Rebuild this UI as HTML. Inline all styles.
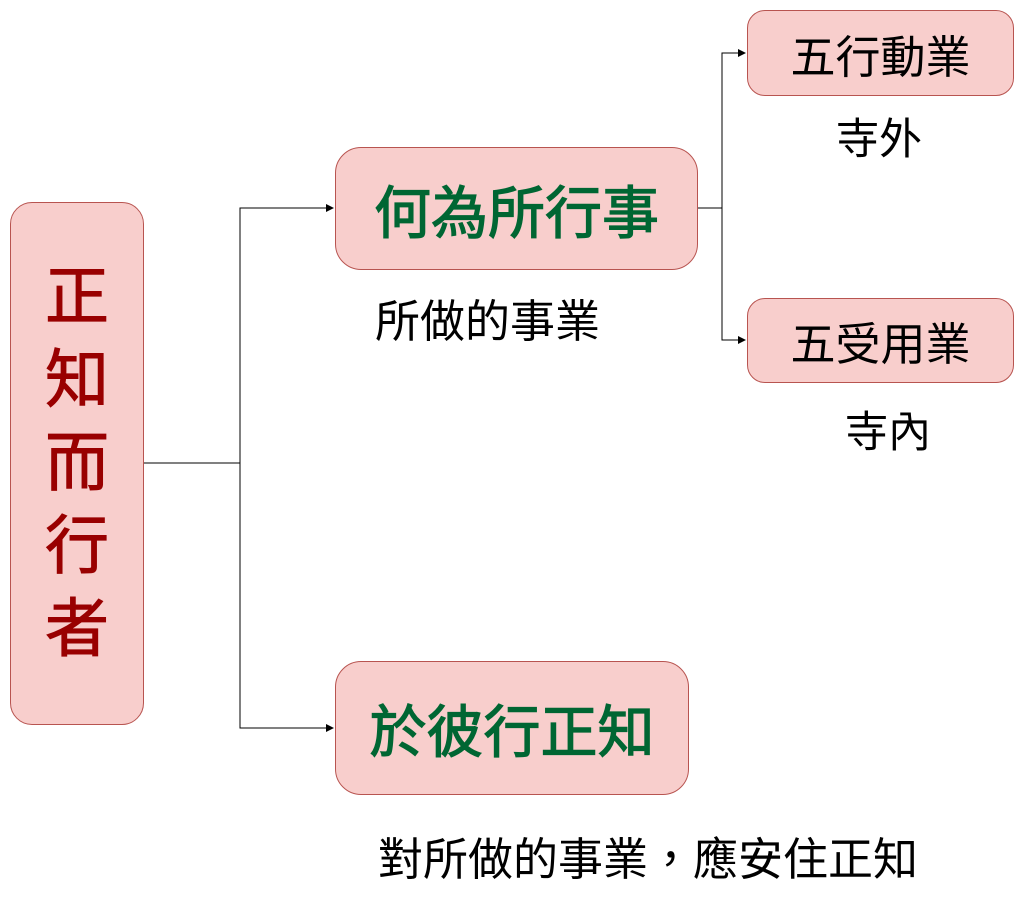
<!DOCTYPE html>
<html><head><meta charset="utf-8"><style>
body{margin:0;width:1024px;height:901px;background:#fff;overflow:hidden;position:relative;font-family:"Liberation Sans","Noto Sans CJK TC",sans-serif;}
.b{position:absolute;background:#f8cecc;border:1.5px solid #b85450;box-sizing:border-box;display:flex;align-items:center;justify-content:center;}
.t{position:absolute;white-space:nowrap;color:#000;line-height:1.2;}
</style></head><body>
<svg width="1024" height="901" style="position:absolute;left:0;top:0">
<defs><marker id="a" markerWidth="8" markerHeight="8" refX="7" refY="4" orient="auto" markerUnits="userSpaceOnUse"><path d="M0,0 L8,4 L0,8 Z" fill="#000"/></marker></defs>
<g stroke="#000" stroke-width="1" fill="none">
<path d="M144,463 H240 V208 H333" marker-end="url(#a)"/>
<path d="M240,463 V728 H333" marker-end="url(#a)"/>
<path d="M698,208 H722 V53 H745" marker-end="url(#a)"/>
<path d="M722,208 V340 H745" marker-end="url(#a)"/>
</g></svg>
<div class="b" style="left:10px;top:202px;width:134px;height:523px;border-radius:22px;flex-direction:column;color:#990000;font-size:64px;line-height:83px;-webkit-text-stroke:1px #990000;">正<br>知<br>而<br>行<br>者</div>
<div class="b" style="left:335px;top:147px;width:363px;height:123px;border-radius:26px;color:#006633;font-size:57px;-webkit-text-stroke:1.2px #006633;">何為所行事</div>
<div class="b" style="left:335px;top:661px;width:354px;height:134px;border-radius:26px;color:#006633;font-size:57px;-webkit-text-stroke:1.2px #006633;">於彼行正知</div>
<div class="b" style="left:747px;top:10px;width:267px;height:86px;border-radius:18px;font-size:45px;">五行動業</div>
<div class="b" style="left:747px;top:298px;width:267px;height:85px;border-radius:18px;font-size:45px;">五受用業</div>
<div class="t" style="left:375px;top:295px;font-size:45px;">所做的事業</div>
<div class="t" style="left:836px;top:115px;font-size:43px;">寺外</div>
<div class="t" style="left:845px;top:408px;font-size:43px;">寺內</div>
<div class="t" style="left:378px;top:833px;font-size:45px;">對所做的事業，應安住正知</div>
</body></html>
